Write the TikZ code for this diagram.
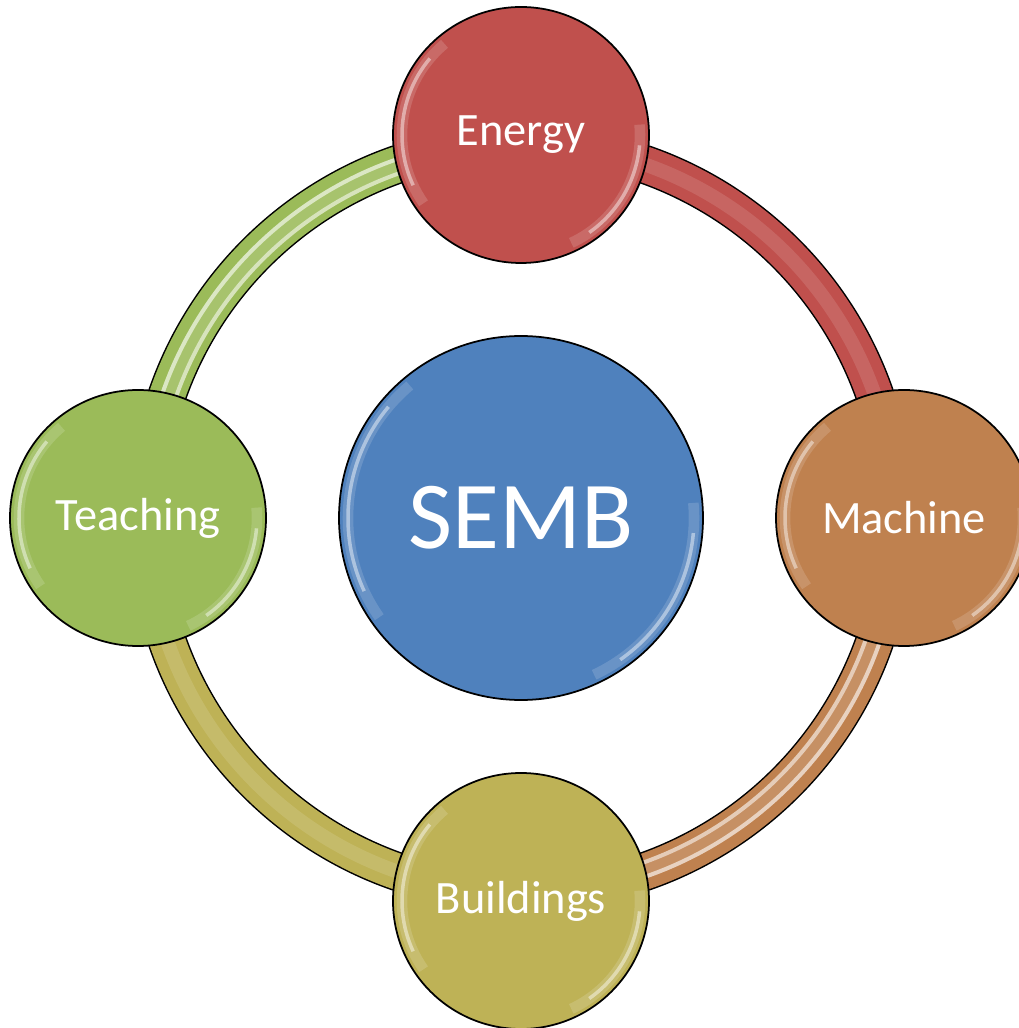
\documentclass[tikz,border=0pt]{standalone}
\usepackage{fontspec}
\setmainfont{Carlito}

\definecolor{sembblue}{HTML}{4F81BD}
\definecolor{energyred}{HTML}{C0504D}
\definecolor{machineorange}{HTML}{BF814F}
\definecolor{buildolive}{HTML}{BEB256}
\definecolor{teachgreen}{HTML}{9BBB59}

\begin{document}
\begin{tikzpicture}
\tikzstyle{ball}=[circle,draw=black,line width=0.5pt,text=white,inner sep=0pt,minimum size=2.56cm,font=\fontsize{13.2}{16}\selectfont]
\tikzstyle{hubball}=[ball,minimum size=3.64cm,font=\fontsize{27.3}{32}\selectfont]
\tikzstyle{gloss}=[white,line cap=butt]
\def\ringr{3.745}
\useasboundingbox (-5.21,-5.10) rectangle (4.97,5.18);

\node[hubball,fill=sembblue] (hub) at (0,0) {SEMB};

% ring, one quarter per colour, under the outer balls
\foreach \a/\col/\shine in {180/teachgreen/.6, 90/energyred/0, 0/machineorange/.6, -90/buildolive/0}{
  \draw[black,line width=0.39cm] (hub.center) ++(\a:\ringr) arc[start angle=\a,delta angle=-90,radius=\ringr];
  \draw[\col,line width=0.36cm] (hub.center) ++(\a:\ringr) arc[start angle=\a,delta angle=-90,radius=\ringr];
  \draw[white,opacity=.12,line width=0.14cm] (hub.center) ++(\a:\ringr) arc[start angle=\a,delta angle=-90,radius=\ringr];
  \draw[white,opacity=\shine,line width=0.04cm] (hub.center) ++(\a:\ringr+0.05) arc[start angle=\a,delta angle=-90,radius=\ringr+0.05];
  \draw[white,opacity=\shine,line width=0.04cm] (hub.center) ++(\a:\ringr-0.09) arc[start angle=\a,delta angle=-90,radius=\ringr-0.09];
}

\node[ball,fill=energyred] (energy) at (90:3.83) {Energy};
\node[ball,fill=machineorange] (machine) at (0:3.83) {Machine};
\node[ball,fill=buildolive] (buildings) at (-90:3.83) {Buildings};
\node[ball,fill=teachgreen] (teaching) at (180:3.83) {Teaching};

% shine along the rims
\foreach \n/\r in {hub/1.82,energy/1.28,machine/1.28,buildings/1.28,teaching/1.28}{
  \draw[gloss,opacity=.15,line width=3pt] (\n.center) ++(130:\r-0.09) arc[start angle=130,end angle=215,radius=\r-0.09];
  \draw[gloss,opacity=.45,line width=1pt] (\n.center) ++(140:\r-0.09) arc[start angle=140,end angle=205,radius=\r-0.09];
  \draw[gloss,opacity=.15,line width=3pt] (\n.center) ++(-65:\r-0.09) arc[start angle=-65,end angle=5,radius=\r-0.09];
  \draw[gloss,opacity=.45,line width=1pt] (\n.center) ++(-55:\r-0.09) arc[start angle=-55,end angle=-5,radius=\r-0.09];
}
\end{tikzpicture}
\end{document}
